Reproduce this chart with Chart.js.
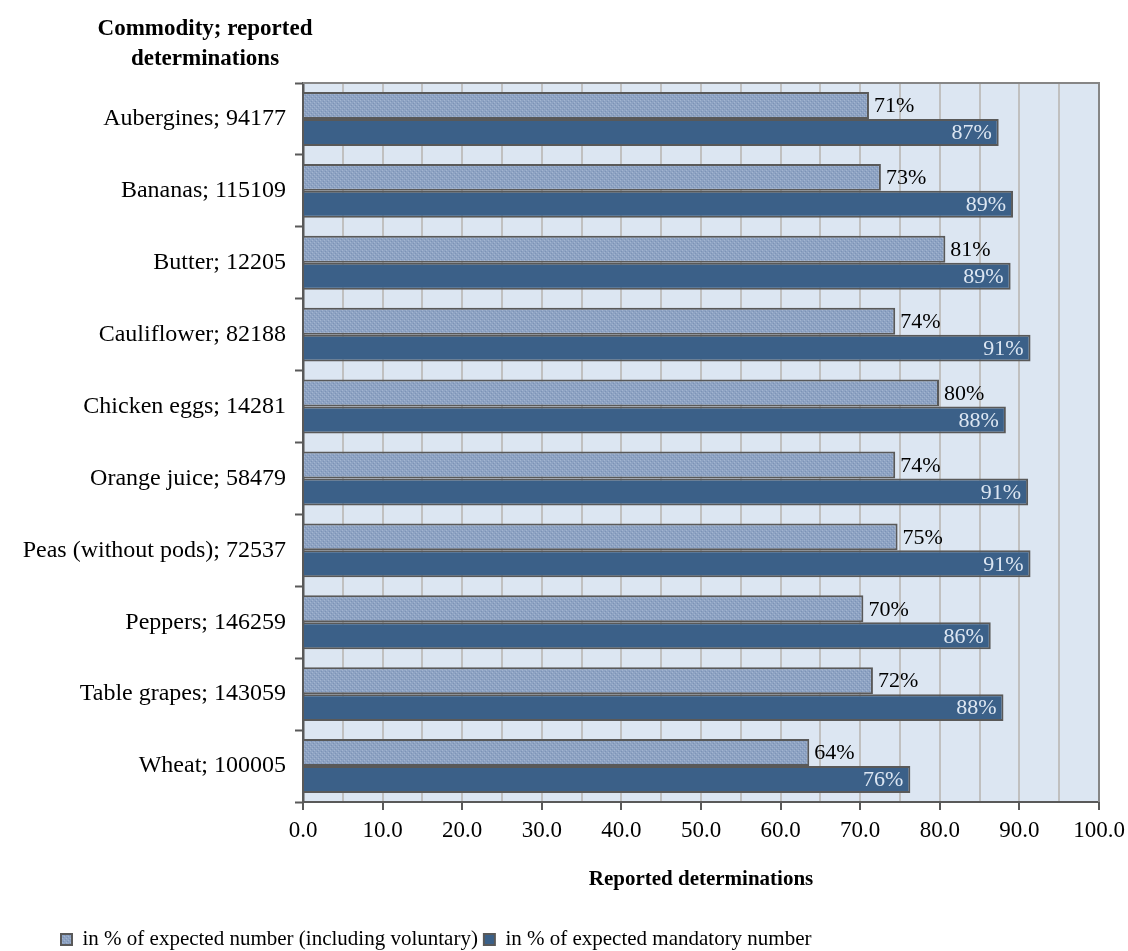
<!DOCTYPE html>
<html>
<head>
<meta charset="utf-8">
<title>Reported determinations by commodity</title>
<script src="https://cdn.jsdelivr.net/npm/chart.js@4.4.1/dist/chart.umd.min.js"></script>
<style>
  html, body { margin: 0; padding: 0; background: #ffffff; }
  #chart { display: block; }
</style>
</head>
<body>
<canvas id="chart" width="1128" height="951"></canvas>
<script>
// values (percent)
const commodities = [
    'Aubergines; 94177', 'Bananas; 115109', 'Butter; 12205', 'Cauliflower; 82188',
    'Chicken eggs; 14281', 'Orange juice; 58479', 'Peas (without pods); 72537',
    'Peppers; 146259', 'Table grapes; 143059', 'Wheat; 100005'
];
const pctExpected = [71.1, 72.6, 80.7, 74.4, 79.9, 74.4, 74.7, 70.4, 71.6, 63.6];
const pctMandatory = [87.4, 89.2, 88.9, 91.4, 88.3, 91.1, 91.4, 86.4, 88.0, 76.3];
const seriesNames = ['in % of expected number (including voluntary)', 'in % of expected mandatory number'];
const axisMin = 0;
const axisMax = 100;
const yTitleLines = ['Commodity; reported', 'determinations'];
const xTitle = 'Reported determinations';

const serif = "'Liberation Serif', 'DejaVu Serif', serif";
const canvas = document.getElementById('chart');
const ctx = canvas.getContext('2d');

// fine dotted fill like the light bars in the original
function makeHatch() {
    const c = document.createElement('canvas');
    c.width = 4; c.height = 4;
    const g = c.getContext('2d');
    g.fillStyle = '#8ea3c3';
    g.fillRect(0, 0, 4, 4);
    g.fillStyle = '#a3b5d0';
    g.fillRect(0, 0, 1, 1); g.fillRect(2, 2, 1, 1);
    g.fillStyle = '#7c93b6';
    g.fillRect(1, 3, 1, 1); g.fillRect(3, 1, 1, 1);
    return ctx.createPattern(c, 'repeat');
}

const plotDecor = {
    id: 'plotDecor',
    afterLayout(chart) {
        // legend sits a bit right of the page edge and close to the bottom
        const lg = chart.legend;
        lg.left += 55;
        lg.top += 9;
        lg.bottom += 9;
    },
    beforeDraw(chart) {
        const a = chart.chartArea;
        const c = chart.ctx;
        c.save();
        c.fillStyle = '#dce6f2';
        c.fillRect(a.left, a.top, a.right - a.left, a.bottom - a.top);
        c.restore();
    },
    beforeDatasetsDraw(chart) {
        const a = chart.chartArea;
        const c = chart.ctx;
        c.save();
        c.strokeStyle = '#868686';
        c.lineWidth = 2;
        c.beginPath();
        c.moveTo(a.left, a.top);
        c.lineTo(a.right, a.top);
        c.lineTo(a.right, a.bottom);
        c.stroke();
        c.restore();
    },
    afterDatasetsDraw(chart) {
        const c = chart.ctx;
        c.save();
        c.font = '22px ' + serif;
        c.textBaseline = 'middle';
        chart.data.datasets.forEach((ds, i) => {
            chart.getDatasetMeta(i).data.forEach((bar, j) => {
                const txt = Math.round(ds.data[j]) + '%';
                if (i === 0) {
                    c.fillStyle = '#000000';
                    c.textAlign = 'left';
                    c.fillText(txt, bar.x + 5, bar.y + 1);
                } else {
                    c.fillStyle = '#dce6f2';
                    c.textAlign = 'right';
                    c.fillText(txt, bar.x - 7, bar.y + 1);
                }
            });
        });
        c.restore();
    },
    afterDraw(chart) {
        const c = chart.ctx;
        c.save();
        c.font = 'bold 23px ' + serif;
        c.fillStyle = '#000000';
        c.textAlign = 'center';
        c.textBaseline = 'middle';
        yTitleLines.forEach((t, k) => c.fillText(t, 205, 29 + k * 30));
        c.restore();
    }
};

new Chart(canvas, {
    type: 'bar',
    data: {
        labels: commodities,
        datasets: [{
            label: seriesNames[0],
            data: pctExpected,
            backgroundColor: makeHatch(),
            borderColor: '#595959',
            borderWidth: 2,
            categoryPercentage: 0.75,
            barPercentage: 1.0
        }, {
            label: seriesNames[1],
            data: pctMandatory,
            backgroundColor: '#3b6088',
            borderColor: '#595959',
            borderWidth: 2,
            categoryPercentage: 0.75,
            barPercentage: 1.0
        }]
    },
    options: {
        indexAxis: 'y',
        responsive: false,
        animation: false,
        devicePixelRatio: 1,
        layout: { padding: { top: 83, right: 29, left: 0, bottom: 0 } },
        plugins: {
            title: { display: false },
            tooltip: { enabled: false },
            legend: {
                position: 'bottom',
                align: 'start',
                labels: {
                    font: { family: serif, size: 21 },
                    color: '#000000',
                    boxWidth: 11,
                    boxHeight: 11,
                    padding: 6
                }
            }
        },
        scales: {
            y: {
                type: 'category',
                offset: true,
                grid: {
                    offset: true,
                    drawOnChartArea: false,
                    drawTicks: true,
                    tickLength: 8,
                    tickColor: '#595959',
                    tickWidth: 2
                },
                border: { display: true, color: '#595959', width: 2.5 },
                ticks: {
                    font: { family: serif, size: 24 },
                    color: '#000000',
                    padding: 9
                },
                afterFit(scale) { scale.width = 303; }
            },
            x: {
                min: axisMin,
                max: axisMax,
                grid: {
                    color: (c) => (c.tick && (c.tick.value === axisMin || c.tick.value === axisMax)) ? 'rgba(0,0,0,0)' : '#c0c0c0',
                    lineWidth: 2,
                    drawTicks: true,
                    tickLength: 8,
                    tickColor: (c) => (c.tick && c.tick.value % 10 === 0) ? '#595959' : 'rgba(0,0,0,0)',
                    tickWidth: 2
                },
                border: { display: true, color: '#595959', width: 2 },
                ticks: {
                    stepSize: 5,
                    autoSkip: false,
                    maxRotation: 0,
                    font: { family: serif, size: 23 },
                    color: '#000000',
                    padding: 7,
                    callback: (v) => (v % 10 === 0 ? Number(v).toFixed(1) : '')
                },
                title: {
                    display: true,
                    text: xTitle,
                    font: { family: serif, size: 21, weight: 'bold' },
                    color: '#000000',
                    padding: { top: 0, bottom: 22 }
                },
                afterFit(scale) {
                    scale.height = 112;
                    scale.paddingLeft = 0;
                    scale.paddingRight = 0;
                }
            }
        }
    },
    plugins: [plotDecor]
});
</script>
</body>
</html>
